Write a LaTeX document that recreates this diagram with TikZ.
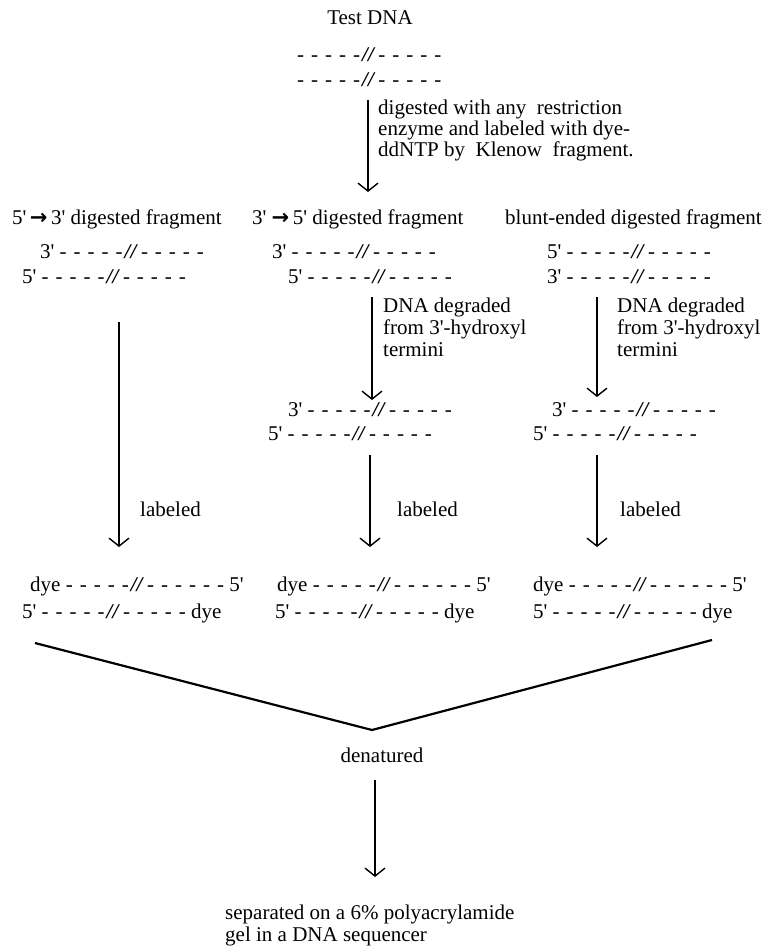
\documentclass[tikz,border=0pt]{standalone}
\usepackage{fontspec}
\setmainfont{Liberation Serif}
\newfontfamily\arrowfont{DejaVu Sans}
\usetikzlibrary{arrows.meta}
\newcommand\pr{\textquotesingle}
\newcommand\harr{{\arrowfont\bfseries →}}
\newcommand\hy{\makebox[14pt][l]{-}}
\newcommand\lgrp{\hy\hy\hy\hy-}
\newcommand\sls{\hspace{2pt}\textbf{\textit{//}}\hspace{3pt}}
\newcommand\dna{\lgrp\sls\lgrp}
\newcommand\dnalong{\lgrp\sls\hy\lgrp}
\tikzset{
  lbl/.style={font=\fontsize{21}{22.5}\selectfont, inner sep=0pt, anchor=base west},
  lblc/.style={lbl, anchor=base},
  arr/.style={line width=1.1pt, -{Straight Barb[length=8pt,width=20pt,line width=1.4pt]}},
  vline/.style={line width=2.2pt, line join=miter},
}
\begin{document}
\begin{tikzpicture}[x=1pt,y=-1pt]
\useasboundingbox (0,0) rectangle (762,948);
% top
\node[lblc] (test) at (370,24) {Test DNA};
\node[lbl] (s1) at (297,61) {\dna};
\node[lbl] (s2) at (297,86) {\dna};
\coordinate (a1s) at (368,100);
\coordinate (a1e) at (368,192);
\draw[arr] (a1s) -- (a1e);
\node[lbl] (d1) at (378,114) {digested with any\ \ restriction};
\node[lbl] (d2) at (378,135) {enzyme and labeled with dye-};
\node[lbl] (d3) at (378,156) {ddNTP by\ \ Klenow\ \ fragment.};
% headers
\node[lbl] (h1) at (12,224) {5\pr\,\harr\,3\pr\ digested fragment};
\node[lbl] (h2) at (252,224) {3\pr\ \harr\,5\pr\ digested fragment};
\node[lbl] (h3) at (505,224) {blunt-ended digested fragment};
% left column
\node[lbl] (l1) at (40,258) {3\pr\ \dna};
\node[lbl] (l2) at (22,283) {5\pr\ \dna};
\coordinate (la1) at (119,322);
\coordinate (la2) at (119,547);
\draw[arr] (la1) -- (la2);
\node[lbl] (llab) at (140,516) {labeled};
\node[lbl] (l3) at (30,591) {dye \dnalong\ 5\pr};
\node[lbl] (l4) at (22,618) {5\pr\ \dna\ dye};
% middle column
\node[lbl] (m1) at (272,258) {3\pr\ \dna};
\node[lbl] (m2) at (288,283) {5\pr\ \dna};
\coordinate (ma1) at (372,297);
\coordinate (ma2) at (372,400);
\draw[arr] (ma1) -- (ma2);
\node[lbl] (mt1) at (383,312) {DNA degraded};
\node[lbl] (mt2) at (383,334) {from 3\pr-hydroxyl};
\node[lbl] (mt3) at (383,356) {termini};
\node[lbl] (m3) at (288,416) {3\pr\ \dna};
\node[lbl] (m4) at (268,440) {5\pr\ \dna};
\coordinate (mb1) at (370,455);
\coordinate (mb2) at (370,547);
\draw[arr] (mb1) -- (mb2);
\node[lbl] (mlab) at (397,516) {labeled};
\node[lbl] (m5) at (277,591) {dye \dnalong\ 5\pr};
\node[lbl] (m6) at (275,618) {5\pr\ \dna\ dye};
% right column
\node[lbl] (r1) at (547,258) {5\pr\ \dna};
\node[lbl] (r2) at (547,283) {3\pr\ \dna};
\coordinate (ra1) at (597,297);
\coordinate (ra2) at (597,397);
\draw[arr] (ra1) -- (ra2);
\node[lbl] (rt1) at (617,312) {DNA degraded};
\node[lbl] (rt2) at (617,334) {from 3\pr-hydroxyl};
\node[lbl] (rt3) at (617,356) {termini};
\node[lbl] (r3) at (552,416) {3\pr\ \dna};
\node[lbl] (r4) at (533,440) {5\pr\ \dna};
\coordinate (rb1) at (597,455);
\coordinate (rb2) at (597,547);
\draw[arr] (rb1) -- (rb2);
\node[lbl] (rlab) at (620,516) {labeled};
\node[lbl] (r5) at (533,591) {dye \dnalong\ 5\pr};
\node[lbl] (r6) at (533,618) {5\pr\ \dna\ dye};
% merge
\coordinate (vL) at (35,643);
\coordinate (vM) at (372,730);
\coordinate (vR) at (712,640);
\draw[vline] (vL) -- (vM) -- (vR);
\node[lblc] (den) at (382,762) {denatured};
\coordinate (da1) at (375,780);
\coordinate (da2) at (375,877);
\draw[arr] (da1) -- (da2);
\node[lbl] (sep1) at (225,919) {separated on a 6\% polyacrylamide};
\node[lbl] (sep2) at (225,941) {gel in a DNA sequencer};
\end{tikzpicture}
\end{document}
